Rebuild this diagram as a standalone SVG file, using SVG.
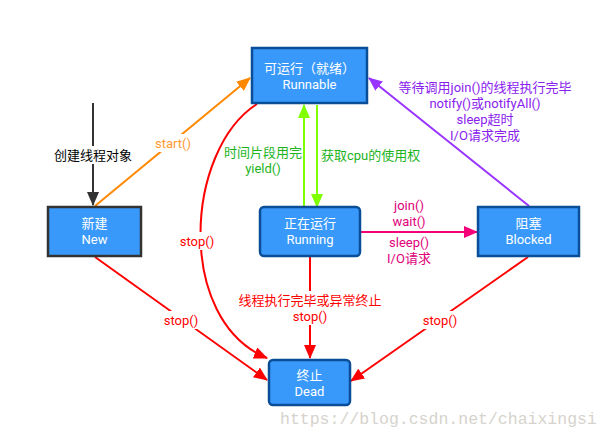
<svg xmlns="http://www.w3.org/2000/svg" width="611" height="438" viewBox="0 0 611 438">
<style>
text{font-family:Roboto,"Noto Sans CJK SC",sans-serif;font-size:13px;text-anchor:middle}
.node rect{fill:#3899fb;stroke:#0b4e98;stroke-width:2.5}
.node text{fill:#ffffff}
.lbl{fill:#ffffff;stroke:none}
.red{fill:#ff0000}
</style>
<defs>
<marker id="mBlack" markerUnits="userSpaceOnUse" markerWidth="14" markerHeight="12" refX="13" refY="6" orient="auto"><path d="M0,0 L14,6 L0,12 Z" fill="#333333"/></marker>
<marker id="mOrange" markerUnits="userSpaceOnUse" markerWidth="14" markerHeight="12" refX="13" refY="6" orient="auto"><path d="M0,0 L14,6 L0,12 Z" fill="#ff8800"/></marker>
<marker id="mGreen" markerUnits="userSpaceOnUse" markerWidth="14" markerHeight="12" refX="13" refY="6" orient="auto"><path d="M0,0 L14,6 L0,12 Z" fill="#80ff00"/></marker>
<marker id="mRed" markerUnits="userSpaceOnUse" markerWidth="14" markerHeight="12" refX="13" refY="6" orient="auto"><path d="M0,0 L14,6 L0,12 Z" fill="#ff0000"/></marker>
<marker id="mPink" markerUnits="userSpaceOnUse" markerWidth="14" markerHeight="12" refX="13" refY="6" orient="auto"><path d="M0,0 L14,6 L0,12 Z" fill="#f5007a"/></marker>
<marker id="mPurple" markerUnits="userSpaceOnUse" markerWidth="14" markerHeight="12" refX="13" refY="6" orient="auto"><path d="M0,0 L14,6 L0,12 Z" fill="#9933ff"/></marker>
</defs>
<rect width="611" height="438" fill="#ffffff"/>

<g id="connectors" fill="none" stroke-width="2">
<line x1="93" y1="103" x2="93" y2="205" stroke="#333333" marker-end="url(#mBlack)"/>
<line x1="95" y1="206" x2="250" y2="78" stroke="#ff8800" marker-end="url(#mOrange)"/>
<line x1="304" y1="207" x2="304" y2="105" stroke="#80ff00" marker-end="url(#mGreen)"/>
<line x1="317" y1="105" x2="317" y2="207" stroke="#80ff00" marker-end="url(#mGreen)"/>
<path d="M257,104 C185,150 175,320 267,358" stroke="#ff0000" marker-end="url(#mRed)"/>
<line x1="95" y1="257" x2="267" y2="380" stroke="#ff0000" marker-end="url(#mRed)"/>
<line x1="310" y1="257" x2="310" y2="358" stroke="#ff0000" marker-end="url(#mRed)"/>
<line x1="528" y1="257" x2="351" y2="381" stroke="#ff0000" marker-end="url(#mRed)"/>
<line x1="361" y1="232" x2="477" y2="232" stroke="#f5007a" marker-end="url(#mPink)"/>
<line x1="529" y1="206" x2="369" y2="78" stroke="#9933ff" marker-end="url(#mPurple)"/>

<rect class="lbl" x="52" y="146" width="82" height="18"/>
<text x="93" y="160" fill="#000000" stroke="none">创建线程对象</text>
<rect class="lbl" x="151" y="134" width="44" height="18"/>
<text x="173" y="148" fill="#ff9a33" stroke="none">start()</text>
<text x="263" y="157" fill="#1db31d" stroke="none">时间片段用完<tspan x="263" dy="16">yield()</tspan></text>
<text x="321" y="160" fill="#1db31d" stroke="none" style="text-anchor:start">获取cpu的使用权</text>
<rect class="lbl" x="177" y="232" width="40" height="18"/>
<text x="197" y="246" class="red" stroke="none">stop()</text>
<rect class="lbl" x="161" y="311" width="40" height="18"/>
<text x="181" y="325" class="red" stroke="none">stop()</text>
<rect class="lbl" x="420" y="311" width="40" height="18"/>
<text x="440" y="325" class="red" stroke="none">stop()</text>
<rect class="lbl" x="236" y="291" width="148" height="34"/>
<text x="310" y="305" class="red" stroke="none">线程执行完毕或异常终止<tspan x="310" dy="16">stop()</tspan></text>
<text x="409" y="210" fill="#e0007a" stroke="none">join()<tspan x="409" dy="16">wait()</tspan></text>
<text x="409" y="247" fill="#e0007a" stroke="none">sleep()<tspan x="409" dy="16">I/O请求</tspan></text>
<text x="485" y="92" fill="#8a22ee" stroke="none">等待调用join()的线程执行完毕<tspan x="485" dy="16">notify()或notifyAll()</tspan><tspan x="485" dy="16">sleep超时</tspan><tspan x="485" dy="16">I/O请求完成</tspan></text>
</g>

<g id="runnable" class="node">
<rect x="252" y="48" width="115" height="55"/>
<text x="309.5" y="73">可运行（就绪）<tspan x="309.5" dy="16">Runnable</tspan></text>
</g>
<g id="new" class="node">
<rect x="48" y="207" width="93" height="49" style="stroke:#333333"/>
<text x="94.5" y="228">新建<tspan x="94.5" dy="16">New</tspan></text>
</g>
<g id="running" class="node">
<rect x="260" y="207" width="100" height="49" rx="4"/>
<text x="310" y="228">正在运行<tspan x="310" dy="16">Running</tspan></text>
</g>
<g id="blocked" class="node">
<rect x="478" y="207" width="101" height="49"/>
<text x="528.5" y="228">阻塞<tspan x="528.5" dy="16">Blocked</tspan></text>
</g>
<g id="dead" class="node">
<rect x="269" y="360" width="81" height="45" rx="4"/>
<text x="309.5" y="380">终止<tspan x="309.5" dy="16">Dead</tspan></text>
</g>

<text x="280" y="424" style="text-anchor:start;font-family:'Liberation Mono',monospace;font-size:16.5px" fill="#d6d3cc">https://blog.csdn.net/chaixingsi</text>
</svg>
